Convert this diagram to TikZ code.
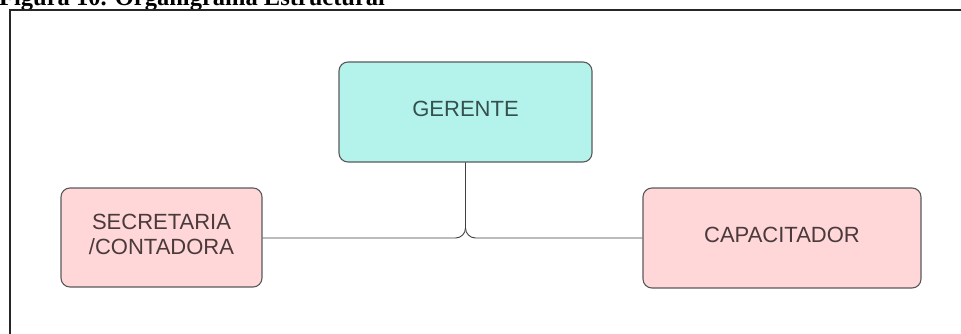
\documentclass[tikz,border=0pt]{standalone}
\usepackage{fontspec}
\setmainfont{Liberation Serif}
\newfontfamily\boxfont{Liberation Sans}
\definecolor{gerfill}{HTML}{B4F3EC}
\definecolor{pinkfill}{HTML}{FFD7D8}
\definecolor{boxline}{HTML}{5A5A5A}
\definecolor{gertxt}{HTML}{36504D}
\definecolor{pinktxt}{HTML}{4A3A3C}
\tikzset{
  orgbox/.style={draw=boxline, line width=1.1pt, rounded corners=9pt, inner sep=0pt, align=center, font=\boxfont\fontsize{22}{25}\selectfont, text depth=6pt},
  link/.style={draw=black!75, line width=0.9pt}
}
\begin{document}
\begin{tikzpicture}[x=1pt,y=-1pt]
\useasboundingbox (0,0) rectangle (961,334);
\clip (0,0) rectangle (961,334);
\node[anchor=base west, inner sep=0pt, font=\bfseries\fontsize{24.5}{28}\selectfont] (cap) at (-1,6) {Figura 10. Organigrama Estructural};
\draw[line width=1.4pt, black!85] (10,334) -- (10,10) -- (961,10);
\node[orgbox, fill=gerfill, text=gertxt, minimum width=253pt, minimum height=100pt] (g) at (465.5,112) {GERENTE};
\node[orgbox, fill=pinkfill, text=pinktxt, minimum width=201pt, minimum height=99pt] (s) at (161.5,237.5) {SECRETARIA\\/CONTADORA};
\node[orgbox, fill=pinkfill, text=pinktxt, minimum width=278pt, minimum height=100pt] (c) at (782,238) {CAPACITADOR};
\coordinate (j) at (465.5,238);
\draw[link, rounded corners=10pt] (g.south) -- (j) -- (s.east |- j);
\draw[link, rounded corners=10pt] (g.south) -- (j) -- (c.west |- j);
\end{tikzpicture}
\end{document}
